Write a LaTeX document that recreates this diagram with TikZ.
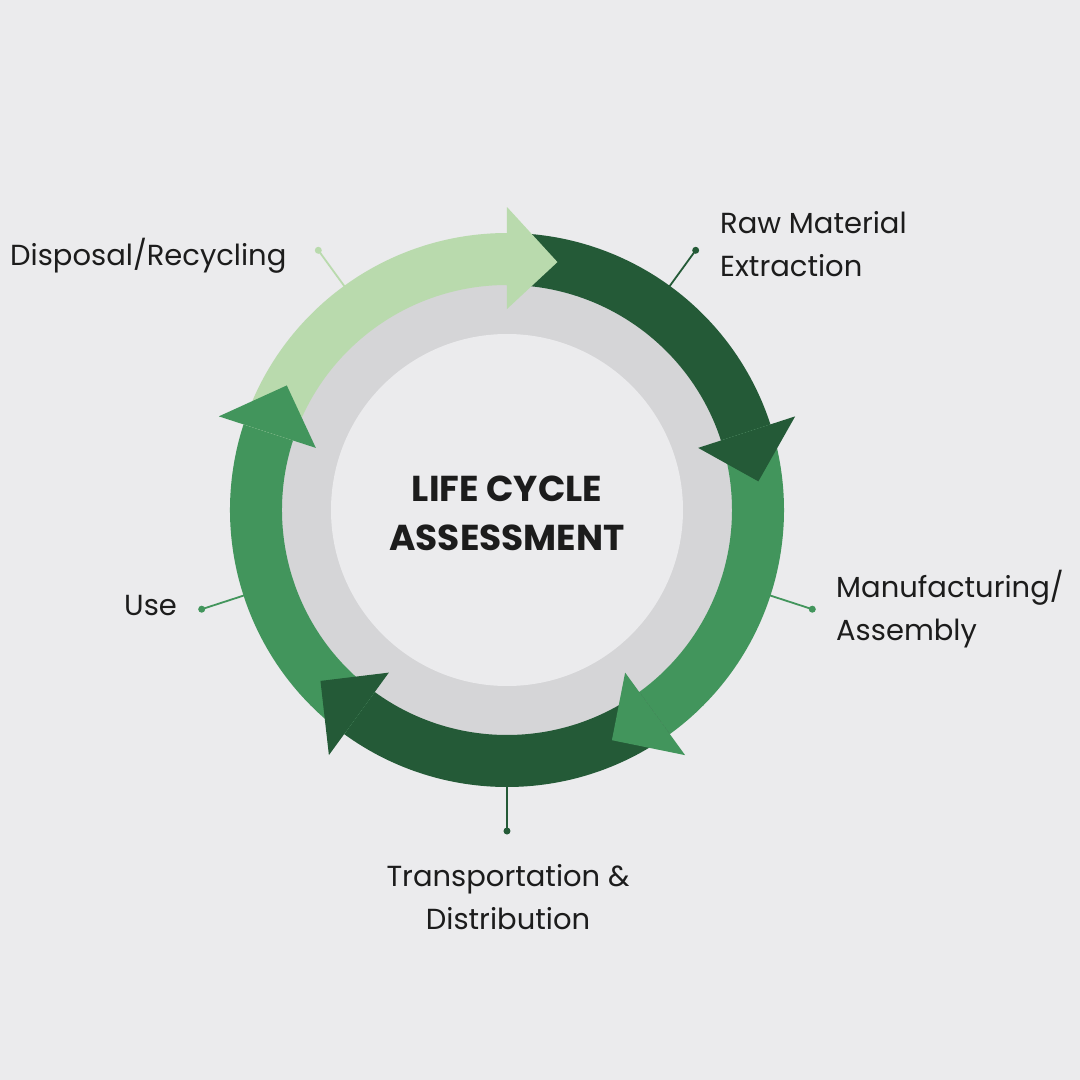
\documentclass[tikz,border=0pt]{standalone}
\usepackage{fontspec}
\setmainfont{Poppins}
\definecolor{bg}{HTML}{EBEBED}
\definecolor{ring}{HTML}{D5D5D7}
\definecolor{dkg}{HTML}{245A37}
\definecolor{mdg}{HTML}{42955C}
\definecolor{ltg}{HTML}{B9DAAD}
\definecolor{txt}{HTML}{1C1C1C}
\tikzset{
  lbl/.style={inner sep=0pt, text=txt, font=\fontsize{29}{43}\selectfont},
  ttl/.style={inner sep=0pt, text=txt, align=center, font=\bfseries\fontsize{36}{49}\selectfont},
  leader/.style={line width=1.8pt},
}
\begin{document}
\begin{tikzpicture}[x=1pt,y=1pt]
\fill[bg] (-507,-570) rectangle (573,510);
\useasboundingbox (-507,-570) rectangle (573,510);
% gray ring
\fill[ring] (0,0) circle (226);
\fill[bg] (0,0) circle (176);
% leader lines
\foreach \a/\c/\n in {54/dkg/raw, -18/mdg/man, -90/dkg/tra, -162/mdg/use, 126/ltg/dis}{
  \coordinate (s\n) at (\a:270);
  \coordinate (d\n) at (\a:321);
  \draw[\c, leader] (s\n) -- (d\n);
  \fill[\c] (d\n) circle (3.5);
}
% arrow bodies
\foreach \k/\c in {0/dkg,1/mdg,2/dkg,3/mdg,4/ltg}{
  \pgfmathsetmacro\as{90-72*\k}
  \pgfmathsetmacro\ae{18-72*\k}
  \fill[\c] (\as:225) arc[start angle=\as, end angle=\ae, radius=225]
     -- (\ae:277) arc[start angle=\ae, end angle=\as, radius=277] -- cycle;
}
% arrow heads
\foreach \k/\c in {0/dkg,1/mdg,2/dkg,3/mdg,4/ltg}{
  \pgfmathsetmacro\ae{18-72*\k}
  \pgfmathsetmacro\at{18-72*\k-11.5}
  \fill[\c] (\ae:201) -- (\ae:303) -- (\at:253) -- cycle;
}
% labels
\node[ttl] (title) at (0,-3) {LIFE CYCLE\\ASSESSMENT};
\node[lbl, anchor=west, align=left] (traw) at (213,266) {Raw Material\\Extraction};
\node[lbl, anchor=west, align=left] (tman) at (329,-99) {Manufacturing/\\Assembly};
\node[lbl, align=center] (ttra) at (1,-387) {Transportation \&\\Distribution};
\node[lbl, anchor=west] (tuse) at (-383,-96) {Use};
\node[lbl, anchor=west] (tdis) at (-497,254) {Disposal/Recycling};
\end{tikzpicture}
\end{document}
